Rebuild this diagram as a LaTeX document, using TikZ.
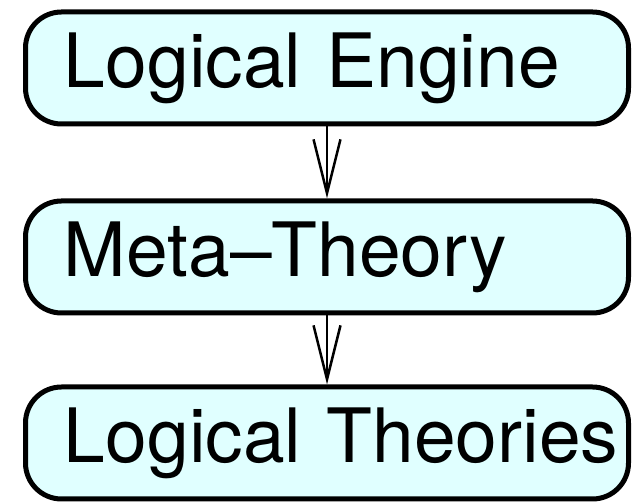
\documentclass[tikz,border=0pt]{standalone}
\usepackage{fontspec}
\setmainfont{TeX Gyre Heros}
\usepackage{tikz}
\usetikzlibrary{arrows.meta}
\definecolor{boxcyan}{RGB}{224,255,255}

\begin{document}
\begin{tikzpicture}[x=1pt,y=1pt,
    layer/.style={draw, line width=5pt, fill=boxcyan, rounded corners=36pt,
      minimum height=112pt, inner xsep=0pt, text width=603pt, align=left,
      font=\fontsize{75}{80}\selectfont,
      execute at begin node={\hspace*{38.5pt}}},
    feed/.style={line width=2.5pt, -{Straight Barb[length=54pt,width=27pt]}}]
    \useasboundingbox (0,0) rectangle (638,502);

    % the three layers, top to bottom
    \node[layer] (engine) at (327,434) {Logical Engine};
    \node[layer] (meta)   at (327,245) {Meta--Theory};
    \node[layer] (theory) at (327,59)  {Logical Theories};

    % arrows between layers
    \draw[feed] (engine.south) -- (meta.north);
    \draw[feed] (meta.south) -- (theory.north);
\end{tikzpicture}
\end{document}
